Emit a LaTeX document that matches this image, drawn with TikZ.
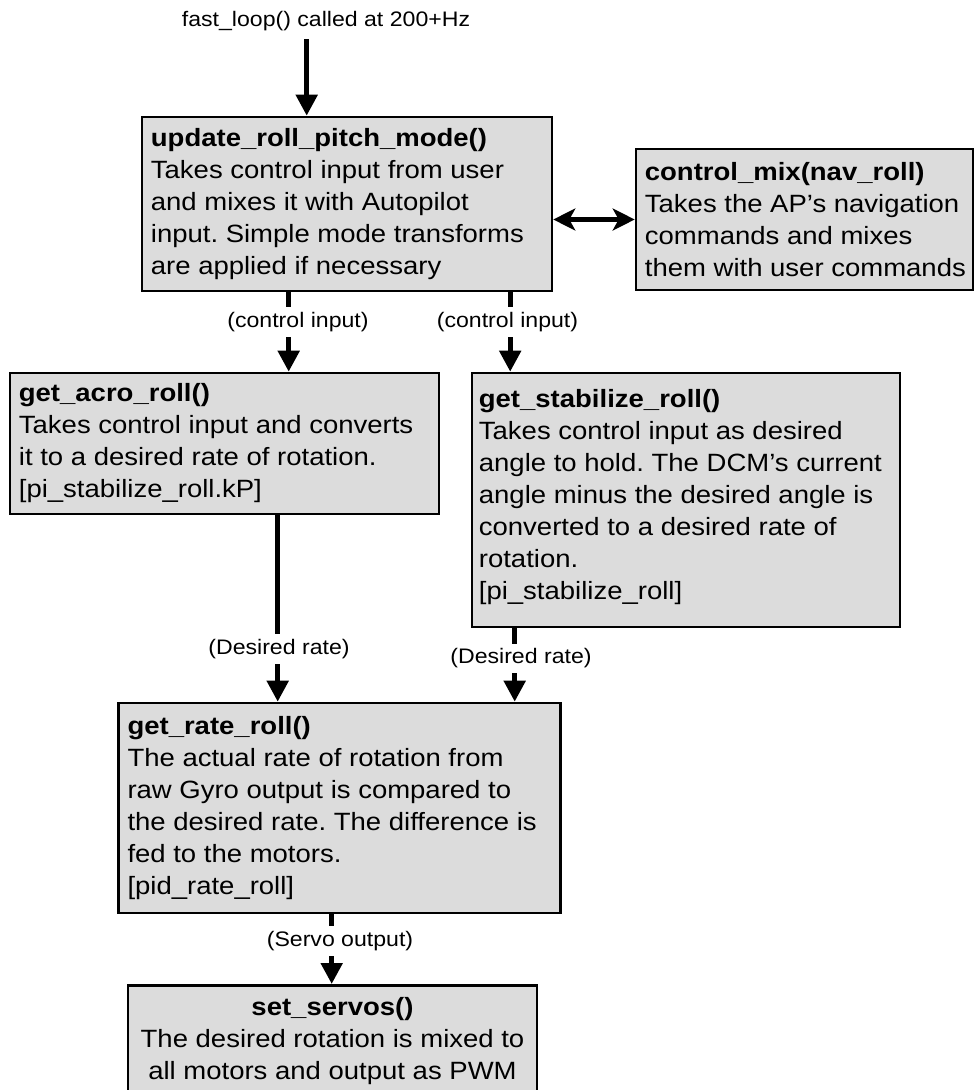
\documentclass[tikz,border=0pt]{standalone}
\usepackage{fontspec}
\setmainfont[FakeStretch=1.1]{Liberation Sans}
\usetikzlibrary{arrows.meta}
\definecolor{boxfill}{RGB}{220,220,220}
\tikzset{
  box/.style={draw=black, line width=2.6pt, fill=boxfill, inner sep=0pt, rectangle},
  txt/.style={inner sep=0pt, align=left, font=\fontsize{25}{32}\selectfont\frenchspacing, anchor=west},
  txtc/.style={inner sep=0pt, align=center, font=\fontsize{25}{32}\selectfont\frenchspacing, anchor=north},
  lbl/.style={fill=white, inner xsep=2pt, inner ysep=5pt, font=\fontsize{21}{24}\selectfont},
  toplbl/.style={inner sep=0pt, font=\fontsize{21}{24}\selectfont},
  arr/.style={line width=5pt, -{Triangle[length=21pt,width=21pt]}},
  darr/.style={line width=5pt, {Stealth[length=22pt,width=22pt,inset=6pt]}-{Stealth[length=22pt,width=22pt,inset=6pt]}},
}
\begin{document}
\begin{tikzpicture}[x=1pt,y=-1pt]
\useasboundingbox (0,0) rectangle (976,1090);
\fill[white] (0,0) rectangle (976,1090);
\clip (0,0) rectangle (976,1090);

% boxes
\node[box, minimum width=410pt, minimum height=174pt] (b1) at (347,204) {};
\node[box, minimum width=337pt, minimum height=141pt] (b2) at (804.5,219.5) {};
\node[box, minimum width=429pt, minimum height=141pt] (b3) at (224.5,443.5) {};
\node[box, minimum width=428pt, minimum height=254pt] (b4) at (686,500) {};
\node[box, minimum width=442pt, minimum height=210pt] (b5) at (339.6,808) {};
\node[box, minimum width=409pt, minimum height=130pt, anchor=north] (b6) at (332.5,984) {};

% box texts
\node[txt] (t1) at ([xshift=10pt]b1.west) {\textbf{update\_roll\_pitch\_mode()}\\Takes control input from user\\and mixes it with Autopilot\\input. Simple mode transforms\\are applied if necessary};
\node[txt] (t2) at ([xshift=10pt]b2.west) {\textbf{control\_mix(nav\_roll)}\\Takes the AP’s navigation\\commands and mixes\\them with user commands};
\node[txt] (t3) at ([xshift=10pt]b3.west) {\textbf{get\_acro\_roll()}\\Takes control input and converts\\it to a desired rate of rotation.\\{}[pi\_stabilize\_roll.kP]};
\node[txt] (t4) at ([xshift=8pt,yshift=3pt]b4.west) {\textbf{get\_stabilize\_roll()}\\Takes control input as desired\\angle to hold. The DCM’s current\\angle minus the desired angle is\\converted to a desired rate of\\rotation.\\{}[pi\_stabilize\_roll]};
\node[txt] (t5) at ([xshift=10pt]b5.west) {\textbf{get\_rate\_roll()}\\The actual rate of rotation from\\raw Gyro output is compared to\\the desired rate. The difference is\\fed to the motors.\\{}[pid\_rate\_roll]};
\node[txtc] (t6) at ([yshift=-13pt]b6.north) {\textbf{set\_servos()}\\The desired rotation is mixed to\\all motors and output as PWM};

% top input
\node[toplbl] (title) at (326,21) {fast\_loop() called at 200+Hz};
\coordinate (in) at (306.7,39);
\draw[arr] (in) -- (in |- b1.north);

% connectors
\coordinate (s13) at ([xshift=148pt]b1.south west);
\draw[arr] (s13) -- (s13 |- b3.north);
\coordinate (s14) at ([xshift=369.5pt]b1.south west);
\draw[arr] (s14) -- (s14 |- b4.north);
\coordinate (s35) at ([xshift=269pt]b3.south west);
\draw[arr] (s35) -- (s35 |- b5.north);
\coordinate (s45) at ([xshift=44pt]b4.south west);
\draw[arr] (s45) -- (s45 |- b5.north);
\coordinate (s56) at ([xshift=214.4pt]b5.south west);
\draw[arr] (s56) -- (s56 |- b6.north);
\draw[darr] (b1.east |- b2.west) -- (b2.west);

% labels
\node[lbl] (l1) at (298,322) {(control input)};
\node[lbl] (l2) at (507.5,322) {(control input)};
\node[lbl] (l3) at (279,649) {(Desired rate)};
\node[lbl] (l4) at (521,658.5) {(Desired rate)};
\node[lbl] (l5) at (340,941) {(Servo output)};
\end{tikzpicture}
\end{document}
